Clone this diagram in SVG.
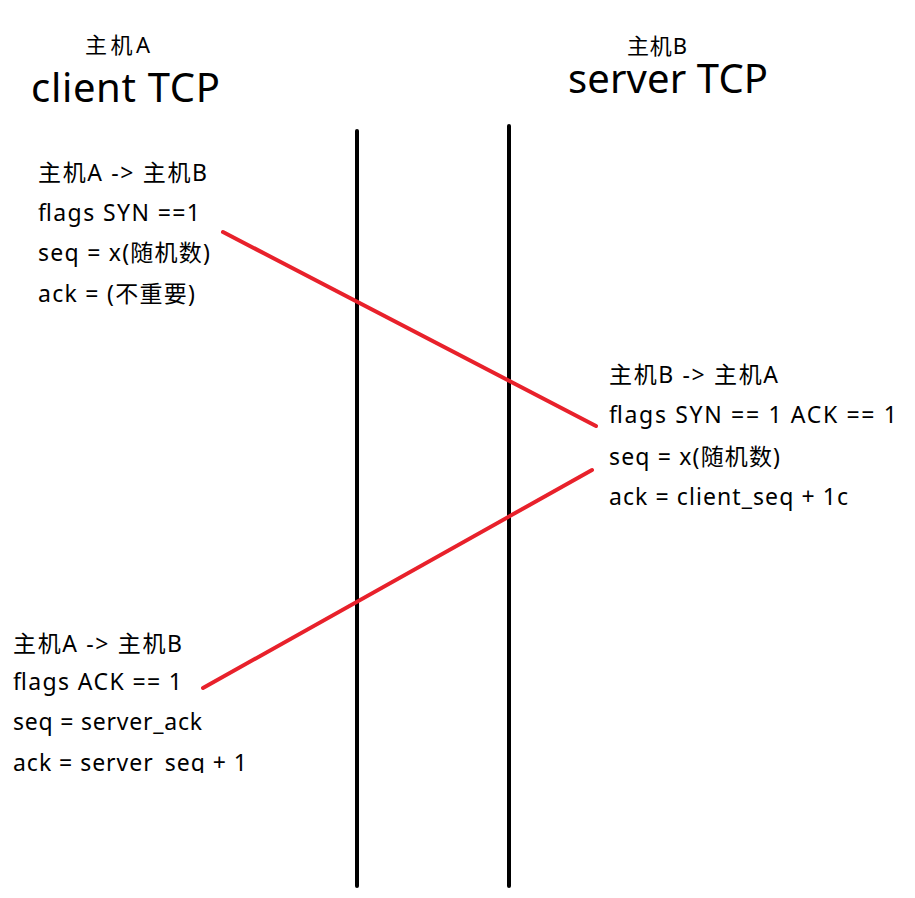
<svg xmlns="http://www.w3.org/2000/svg" width="915" height="898" viewBox="0 0 915 898">
<style>
  text { font-family: "Noto Sans", "Noto Sans CJK SC", sans-serif; fill: #000; }
  .t { font-size: 23px; }
  .h { font-size: 22px; }
  .big { font-size: 40px; }
  .life { stroke: #000; stroke-width: 4; stroke-linecap: round; fill: none; }
  .msg { stroke: #e8212b; stroke-width: 4; stroke-linecap: round; fill: none; }
</style>
<defs>
  <clipPath id="clipBottom"><rect x="0" y="0" width="915" height="773"/></clipPath>
</defs>
<rect width="915" height="898" fill="#fff"/>
<g id="clientHeader">
  <text class="h" x="85" y="53" textLength="65" lengthAdjust="spacing">主机A</text>
  <text class="big" x="31" y="102" textLength="189" lengthAdjust="spacing">client TCP</text>
</g>
<g id="serverHeader">
  <text class="h" x="627" y="54" textLength="60" lengthAdjust="spacing">主机B</text>
  <text class="big" x="568" y="93" textLength="200" lengthAdjust="spacing">server TCP</text>
</g>
<g id="lifelines">
  <line class="life" x1="357" y1="131" x2="357" y2="886"/>
  <line class="life" x1="509" y1="126" x2="509" y2="886"/>
</g>
<g id="syn">
  <text class="t" x="38" y="181" textLength="169" lengthAdjust="spacing">主机A -&gt; 主机B</text>
  <text class="t" x="38" y="221" textLength="162" lengthAdjust="spacing">flags SYN ==1</text>
  <text class="t" x="38" y="261" textLength="172" lengthAdjust="spacing">seq = x(随机数)</text>
  <text class="t" x="38" y="302" textLength="157" lengthAdjust="spacing">ack = (不重要)</text>
</g>
<g id="synack">
  <text class="t" x="609" y="383" textLength="169" lengthAdjust="spacing">主机B -&gt; 主机A</text>
  <text class="t" x="609" y="423" textLength="288" lengthAdjust="spacing">flags SYN == 1 ACK == 1</text>
  <text class="t" x="609" y="465" textLength="171" lengthAdjust="spacing">seq = x(随机数)</text>
  <text class="t" x="609" y="505" textLength="239" lengthAdjust="spacing">ack = client_seq + 1c</text>
</g>
<g id="ack">
  <text class="t" x="13" y="652" textLength="169" lengthAdjust="spacing">主机A -&gt; 主机B</text>
  <text class="t" x="13" y="690" textLength="169" lengthAdjust="spacing">flags ACK == 1</text>
  <text class="t" x="13" y="730" textLength="189" lengthAdjust="spacing">seq = server_ack</text>
  <text class="t" x="13" y="771" textLength="234" lengthAdjust="spacing" clip-path="url(#clipBottom)">ack = server_seq + 1</text>
</g>
<g id="connectors">
  <line class="msg" x1="223" y1="232" x2="596" y2="426"/>
  <line class="msg" x1="592" y1="470" x2="203" y2="688"/>
</g>
</svg>
